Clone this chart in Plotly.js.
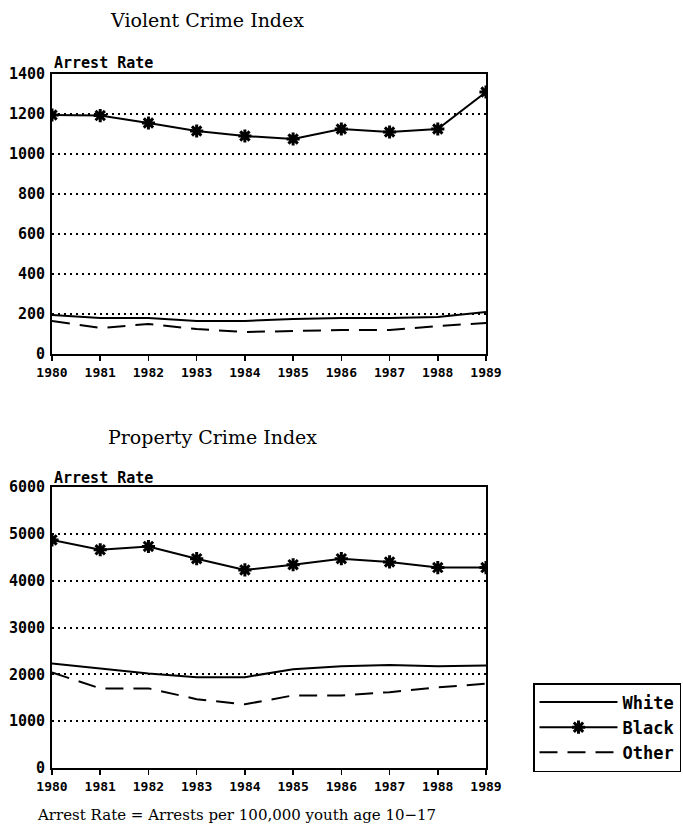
<!DOCTYPE html>
<html>
<head>
<meta charset="utf-8">
<script src="https://cdn.plot.ly/plotly-3.0.1.min.js"></script>
<style>html,body{margin:0;padding:0;background:#fff;}#chart{width:683px;height:837px;}</style>
</head>
<body>
<div id="chart"></div>
<script>
const years = [1980,1981,1982,1983,1984,1985,1986,1987,1988,1989];

const violentWhite = [195,180,180,165,165,175,180,180,185,210];
const violentBlack = [1195,1192,1155,1115,1090,1075,1125,1110,1125,1310];
const violentOther = [165,130,150,125,110,115,120,120,140,155];

const propertyWhite = [2230,2130,2020,1940,1940,2110,2170,2200,2170,2190];
const propertyBlack = [4870,4660,4730,4470,4230,4340,4470,4400,4280,4280];
const propertyOther = [2040,1700,1700,1470,1360,1550,1550,1620,1720,1800];

const seriesNames = ['White','Black','Other'];
const titles = ['Violent Crime Index','Property Crime Index'];
const yLabel = 'Arrest Rate';
const footnote = 'Arrest Rate = Arrests per 100,000 youth age 10\u221217';

const monoX = {family:'DejaVu Sans Mono', size:13, color:'#000', weight:'bold'};
const monoY = {family:'DejaVu Sans Mono', size:15, color:'#000', weight:'bold'};
const serif = {family:'DejaVu Serif', color:'#000'};

function traces(white, black, other, xa, ya, showLeg){
  return [
    {x:years, y:white, name:seriesNames[0], xaxis:xa, yaxis:ya, mode:'lines',
     line:{color:'#000', width:2}, showlegend:showLeg, legendrank:1},
    {x:years, y:black, name:seriesNames[1], xaxis:xa, yaxis:ya, mode:'lines+markers',
     line:{color:'#000', width:2},
     marker:{symbol:'asterisk-open', size:11, color:'#000', line:{color:'#000', width:3}},
     showlegend:showLeg, legendrank:2},
    {x:years, y:other, name:seriesNames[2], xaxis:xa, yaxis:ya, mode:'lines',
     line:{color:'#000', width:2, dash:'18px,10px'}, showlegend:showLeg, legendrank:3}
  ];
}

const data = [].concat(
  traces(violentWhite, violentBlack, violentOther, 'x', 'y', false),
  traces(propertyWhite, propertyBlack, propertyOther, 'x2', 'y2', true)
);

const xDom = [52/683, 486/683];
const xCommon = {
  range:[1980,1989], tickvals:years, ticktext:years.map(String),
  showline:true, linecolor:'#000', linewidth:2, mirror:true,
  ticks:'outside', ticklen:5, tickwidth:1.5, tickcolor:'#000',
  showgrid:false, zeroline:false, tickfont:monoX, domain:xDom, fixedrange:true
};
const yCommon = {
  showline:true, linecolor:'#000', linewidth:2, mirror:true,
  ticks:'', showgrid:true, gridcolor:'#000', gridwidth:2, griddash:'2px,4px',
  zeroline:false, tickfont:monoY, fixedrange:true, ticklabelstandoff:2
};

const layout = {
  width:683, height:837,
  margin:{l:0,r:0,t:0,b:0},
  paper_bgcolor:'#fff', plot_bgcolor:'#fff',
  showlegend:true,
  xaxis: Object.assign({}, xCommon, {anchor:'y'}),
  yaxis: Object.assign({}, yCommon, {range:[0,1400], dtick:200, tick0:0, domain:[1-354/837, 1-74/837], anchor:'x'}),
  xaxis2: Object.assign({}, xCommon, {anchor:'y2'}),
  yaxis2: Object.assign({}, yCommon, {range:[0,6000], dtick:1000, tick0:0, domain:[1-768/837, 1-487/837], anchor:'x2'}),
  legend:{
    x:533/683, y:1-683/837, xanchor:'left', yanchor:'top',
    bordercolor:'#000', borderwidth:1.5, bgcolor:'#fff',
    font:{family:'DejaVu Sans Mono', size:17, color:'#000', weight:'bold'},
    itemwidth:78, tracegroupgap:0
  },
  annotations:[
    {text:titles[0], xref:'paper', yref:'paper', x:207/683, y:1-20/837, xanchor:'center', yanchor:'middle',
     showarrow:false, font:Object.assign({}, serif, {size:19})},
    {text:titles[1], xref:'paper', yref:'paper', x:212/683, y:1-437/837, xanchor:'center', yanchor:'middle',
     showarrow:false, font:Object.assign({}, serif, {size:19})},
    {text:yLabel, xref:'paper', yref:'paper', x:52/683, y:1-63/837, xanchor:'left', yanchor:'middle',
     showarrow:false, font:{family:'DejaVu Sans Mono', size:15, color:'#000', weight:'bold'}},
    {text:yLabel, xref:'paper', yref:'paper', x:52/683, y:1-478/837, xanchor:'left', yanchor:'middle',
     showarrow:false, font:{family:'DejaVu Sans Mono', size:15, color:'#000', weight:'bold'}},
    {text:footnote, xref:'paper', yref:'paper', x:35/683, y:1-815/837, xanchor:'left', yanchor:'middle',
     showarrow:false, font:Object.assign({}, serif, {size:15})}
  ]
};

Plotly.newPlot('chart', data, layout, {staticPlot:true, displayModeBar:false});
</script>
</body>
</html>
